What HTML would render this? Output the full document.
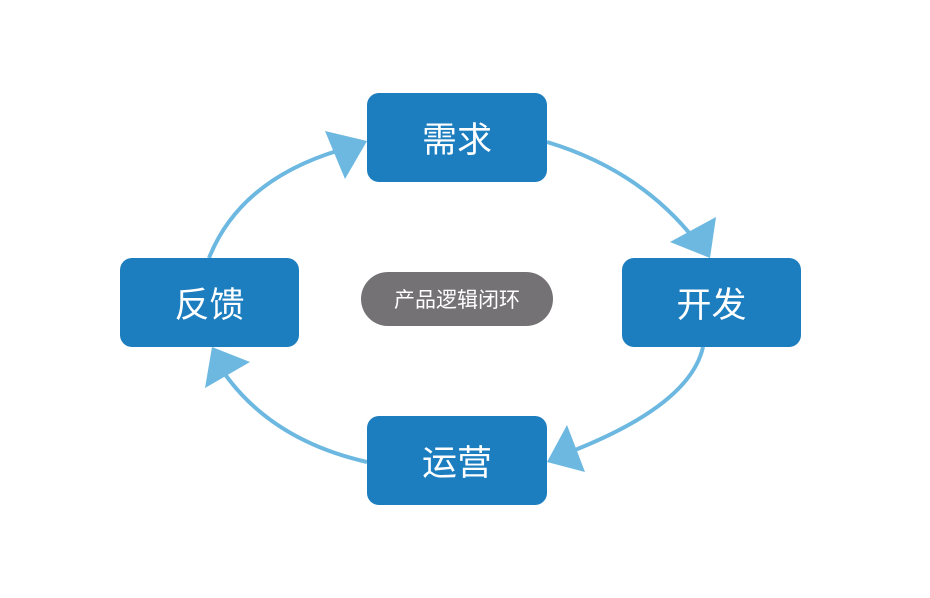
<!DOCTYPE html>
<html><head><meta charset="utf-8"><style>
body{margin:0;width:930px;height:598px;background:#fff;overflow:hidden;position:relative;font-family:"Liberation Sans","Noto Sans CJK SC",sans-serif}
.b{position:absolute;background:#1c7dbf;color:#fff;border-radius:12px;display:flex;align-items:center;justify-content:center;font-size:35px;width:180px;height:89px}
.p{position:absolute;left:361px;top:272px;width:192px;height:54px;border-radius:27px;background:#747275;color:#fff;font-size:21px;display:flex;align-items:center;justify-content:center}
svg{position:absolute;left:0;top:0}
</style></head><body>
<svg width="930" height="598">
<g fill="none" stroke="#6cb8e0" stroke-width="4">
<path d="M547 142 Q640 170 695 240"/>
<path d="M703 347 Q690 405 570 452"/>
<path d="M367 462 Q270 440 222 370"/>
<path d="M209 258 Q240 180 340 150"/>
</g>
<g fill="#6cb8e0">
<polygon points="670,242 716,217 710,258"/>
<polygon points="567,425 585,472 547,462"/>
<polygon points="205,388 212,347 250,362"/>
<polygon points="325,131 367,141 345,179"/>
</g>
</svg>
<div class="b" style="left:367px;top:93px">需求</div>
<div class="b" style="left:622px;top:258px;width:179px">开发</div>
<div class="b" style="left:120px;top:258px;width:179px">反馈</div>
<div class="b" style="left:367px;top:416px">运营</div>
<div class="p">产品逻辑闭环</div>
</body></html>
